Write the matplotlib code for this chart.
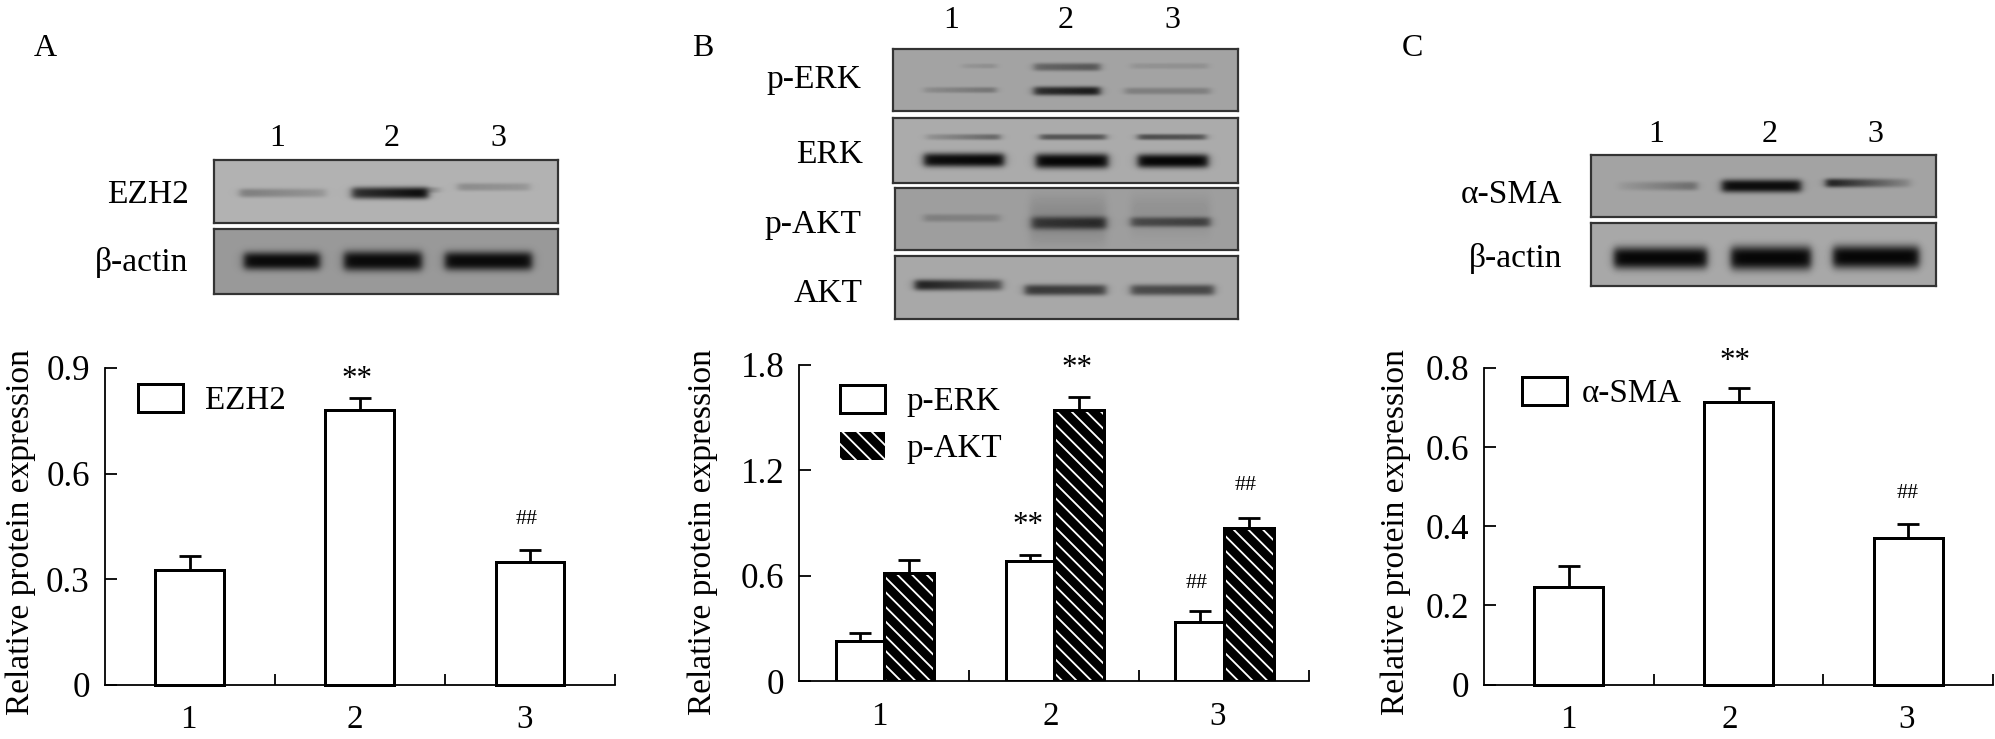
import numpy as np
import matplotlib
matplotlib.use("Agg")
import matplotlib.pyplot as plt
from matplotlib.patches import Patch

plt.rcParams['font.family'] = ['Liberation Serif', 'DejaVu Serif']
plt.rcParams['hatch.linewidth'] = 1.0

W, H, DPI = 1995, 739, 132
PT = 72 / DPI

# ---------- data ----------
groups = ['1', '2', '3']
ezh2 = [0.325, 0.782, 0.349]
ezh2_top = [0.365, 0.814, 0.383]
perk = [0.228, 0.684, 0.335]
perk_top = [0.276, 0.719, 0.400]
pakt = [0.617, 1.542, 0.872]
pakt_top = [0.689, 1.618, 0.928]
asma = [0.247, 0.714, 0.370]
asma_top = [0.300, 0.749, 0.405]
ticks_a = [0, 0.3, 0.6, 0.9]
ticks_b = [0, 0.6, 1.2, 1.8]
ticks_c = [0, 0.2, 0.4, 0.6, 0.8]
tick_labels_a = ['0', '0.3', '0.6', '0.9']
tick_labels_b = ['0', '0.6', '1.2', '1.8']
tick_labels_c = ['0', '0.2', '0.4', '0.6', '0.8']
ylabel = 'Relative protein expression'

# western-blot look: (x0, x1, y, half thickness, darkness left, darkness right), page pixels
blots = {
    'ezh2': ((214, 558, 160, 223), 0.70, [
        (240, 326, 193, 4.5, 0.30, 0.16), (352, 428, 193, 6, 0.72, 0.95),
        (428, 442, 190, 3, 0.25, 0.10), (458, 530, 187, 4, 0.22, 0.16)]),
    'actin_a': ((214, 558, 229, 294), 0.60, [
        (244, 320, 261, 9, 0.93, 0.93), (344, 422, 261, 10, 0.93, 0.93), (445, 532, 261, 9.5, 0.93, 0.93)]),
    'perk': ((893, 1238, 49, 111), 0.64, [
        (962, 996, 66, 2.5, 0.08, 0.14), (1034, 1100, 67, 4, 0.38, 0.48), (1131, 1208, 66, 3, 0.10, 0.12),
        (924, 996, 90, 3, 0.14, 0.30), (1034, 1100, 91, 4.5, 0.72, 0.85), (1125, 1210, 91, 3.5, 0.22, 0.22)]),
    'erk': ((893, 1238, 118, 183), 0.67, [
        (926, 1000, 137, 3, 0.14, 0.42), (1040, 1106, 137, 3, 0.50, 0.50), (1138, 1206, 137, 3, 0.55, 0.50),
        (924, 1004, 160, 7, 0.92, 0.96), (1036, 1108, 161, 7.5, 0.96, 0.96), (1138, 1208, 161, 7, 0.96, 0.96)]),
    'pakt': ((895, 1238, 188, 250), 0.62, [
        (1030, 1106, 220, 24, 0.13, 0.13), (1131, 1210, 215, 20, 0.08, 0.08),
        (924, 1000, 218, 4, 0.20, 0.18), (1032, 1106, 223, 6.5, 0.62, 0.72), (1131, 1210, 222, 5, 0.50, 0.58)]),
    'akt': ((895, 1238, 256, 319), 0.66, [
        (915, 1002, 285, 5.5, 0.82, 0.55), (1025, 1106, 290, 5.5, 0.66, 0.62), (1131, 1214, 290, 5.5, 0.55, 0.58)]),
    'asma': ((1591, 1936, 155, 217), 0.64, [
        (1618, 1697, 186, 4.5, 0.06, 0.35), (1722, 1801, 186, 6.5, 0.92, 0.92), (1826, 1911, 183, 4.5, 0.85, 0.15)]),
    'actin_c': ((1591, 1936, 223, 286), 0.66, [
        (1614, 1707, 258, 11, 0.96, 0.96), (1731, 1811, 258, 12, 0.96, 0.96), (1833, 1919, 257, 11.5, 0.96, 0.96)]),
}

fig = plt.figure(figsize=(W / DPI, H / DPI), dpi=DPI, facecolor='white')


def add_ax(x0, x1, y0, y1):
    return fig.add_axes([x0 / W, 1 - y1 / H, (x1 - x0) / W, (y1 - y0) / H])


def page(x, y, s, size=32, ha='center', va='center', **kw):
    fig.text(x / W, 1 - y / H, s, fontsize=size * PT, ha=ha, va=va, color='black', **kw)


def draw_blot(rect, bg, bands):
    x0, x1, y0, y1 = rect
    ax = add_ax(x0, x1, y0, y1)
    xx, yy = np.meshgrid(np.arange(x0, x1) + 0.5, np.arange(y0, y1) + 0.5)
    img = np.full(xx.shape, float(bg))
    for bx0, bx1, by, th, d0, d1 in bands:
        edge = 0.5 * (np.tanh((xx - bx0) / 4.5) - np.tanh((xx - bx1) / 4.5))
        dark = d0 + (d1 - d0) * np.clip((xx - bx0) / (bx1 - bx0), 0, 1)
        img *= 1 - dark * edge * np.exp(-(np.abs(yy - by) / th) ** 2.8)
    ax.imshow(img, cmap='gray', vmin=0, vmax=1, aspect='auto', interpolation='bilinear')
    ax.set_xticks([])
    ax.set_yticks([])
    for s in ax.spines.values():
        s.set_linewidth(2.2 * PT)
        s.set_color('#333333')


def style_axis(ax, ticks, labels, label_x):
    ax.set_xlim(0.5, 3.5)
    ax.set_ylim(ticks[0], ticks[-1])
    ax.set_yticks(ticks)
    ax.set_yticklabels(labels)
    ax.set_xticks(label_x)
    ax.set_xticklabels(groups)
    ax.set_xticks([1.5, 2.5, 3.5], minor=True)
    ax.spines[['top', 'right']].set_visible(False)
    for s in ax.spines.values():
        s.set_linewidth(1.8 * PT)
    ax.tick_params(axis='x', which='major', length=0, labelsize=33 * PT, pad=20 * PT)
    ax.tick_params(axis='x', which='minor', direction='in', length=11 * PT, width=1.8 * PT)
    ax.tick_params(axis='y', direction='in', length=12.5 * PT, width=1.8 * PT,
                   labelsize=35 * PT, pad=15 * PT)
    ax.patch.set_alpha(0)


def whisker(ax, x, low, top):
    ax.errorbar(x, low, yerr=[[0], [top - low]], fmt='none', ecolor='black',
                elinewidth=2.8 * PT, capsize=11 * PT, capthick=2.8 * PT, zorder=1)


def plain_bars(ax, vals, tops, label):
    xs = np.arange(1, 4)
    ax.bar(xs, vals, 0.405, facecolor='white', edgecolor='black', linewidth=3 * PT,
           label=label, zorder=2, clip_on=False)
    for x, v, t in zip(xs, vals, tops):
        whisker(ax, x, v, t)


def legend(ax, x, y, pad, handles=None, spacing=0.45):
    kw = {} if handles is None else {'handles': handles}
    ax.legend(loc='upper left', bbox_to_anchor=(x / W, 1 - y / H), bbox_transform=fig.transFigure,
              frameon=False, fontsize=33 * PT, borderpad=0, borderaxespad=0,
              handlelength=45 / 33, handleheight=30.5 / 33, handletextpad=pad,
              labelspacing=spacing, **kw)


# ---------- blots ----------
for rect, bg, bands in blots.values():
    draw_blot(rect, bg, bands)

# ---------- panel A ----------
ax_a = add_ax(104.7, 615, 368, 684.6)
plain_bars(ax_a, ezh2, ezh2_top, 'EZH2')
style_axis(ax_a, ticks_a, tick_labels_a, [0.99, 1.97, 2.97])
legend(ax_a, 138, 384, 0.67)

# ---------- panel B ----------
ax_b = add_ax(799.4, 1308.8, 364.5, 681.3)
xs = np.arange(1, 4)
bars_perk = ax_b.bar(xs - 0.143, perk, 0.285, facecolor='white', edgecolor='black',
                     linewidth=3 * PT, label='p-ERK', zorder=2)
ax_b.bar(xs + 0.148, pakt, 0.295, facecolor='black', edgecolor='white', linewidth=0,
         hatch='\\\\\\', zorder=2)
ax_b.bar(xs + 0.148, pakt, 0.295, fill=False, edgecolor='black', linewidth=3 * PT, zorder=3)
for x, v, t in zip(xs - 0.143, perk, perk_top):
    whisker(ax_b, x, v, t)
for x, v, t in zip(xs + 0.148, pakt, pakt_top):
    whisker(ax_b, x, v, t)
hatched = Patch(facecolor='black', edgecolor='white', hatch='\\\\\\', linewidth=0, label='p-AKT')
style_axis(ax_b, ticks_b, tick_labels_b, [0.97, 1.98, 2.96])
legend(ax_b, 839.7, 385, 0.67, handles=[bars_perk, hatched])

# ---------- panel C ----------
ax_c = add_ax(1484, 1993, 368, 684.6)
plain_bars(ax_c, asma, asma_top, 'α-SMA')
style_axis(ax_c, ticks_c, tick_labels_c, [1.0, 1.95, 2.99])
legend(ax_c, 1522, 377, 0.44)

# ---------- page text ----------
for s, x, y in [('A', 45, 48), ('B', 703, 49), ('C', 1412, 48)]:
    page(x, y, s)
for x in (21, 703, 1396):
    page(x, 532, ylabel, size=33.5, rotation=90)

for s, x, y in [('1', 277, 139), ('2', 392, 139), ('3', 498, 139),
                ('1', 951, 21), ('2', 1066, 21), ('3', 1172, 21),
                ('1', 1656, 134), ('2', 1770, 134), ('3', 1875, 134)]:
    page(x, y, s)
for s, x, y in [('EZH2', 189, 195), ('β-actin', 188, 263),
                ('p-ERK', 861, 80), ('ERK', 863, 155), ('p-AKT', 861, 225), ('AKT', 863, 294),
                ('α-SMA', 1562, 195), ('β-actin', 1562, 259)]:
    page(x, y, s, size=33.5, ha='right')

for s, x, y, size in [('**', 357, 380, 31), ('##', 527, 519, 22),
                      ('**', 1028, 526, 31), ('**', 1077, 369, 31),
                      ('##', 1197, 584, 22), ('##', 1246, 485, 22),
                      ('**', 1735, 362, 31), ('##', 1908, 494, 22)]:
    page(x, y, s, size=size)

fig.savefig('out.png', dpi=DPI, facecolor='white')
